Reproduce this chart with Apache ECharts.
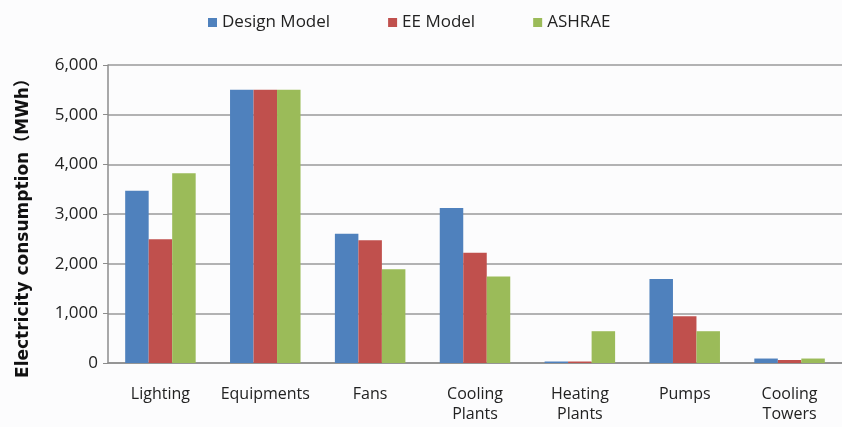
<!DOCTYPE html>
<html>
<head>
<meta charset="utf-8">
<style>
  html, body { margin: 0; padding: 0; background: #fcfcfd; }
  #myChart { width: 842px; height: 427px; }
</style>
<script src="https://cdn.jsdelivr.net/npm/echarts@6/dist/echarts.min.js"></script>
</head>
<body>
<div id="myChart"></div>
<script>
// data
var categories = ['Lighting', 'Equipments', 'Fans', 'Cooling\nPlants', 'Heating\nPlants', 'Pumps', 'Cooling\nTowers'];
var designModel = [3470, 5500, 2600, 3120, 30, 1690, 90];
var eeModel = [2490, 5500, 2470, 2220, 30, 940, 60];
var ashrae = [3820, 5500, 1890, 1740, 640, 640, 90];
var yTicks = ['0', '1,000', '2,000', '3,000', '4,000', '5,000', '6,000'];

var myChart = echarts.init(document.getElementById('myChart'));
var font = '"Open Sans", sans-serif';

var option = {
  backgroundColor: '#fcfcfd',
  animation: false,
  color: ['#4F81BD', '#C0504D', '#9BBB59'],
  legend: {
    left: 203,
    top: 9,
    itemWidth: 9,
    itemHeight: 9,
    itemGap: 58,
    icon: 'rect',
    textStyle: { fontFamily: font, fontSize: 17, color: '#222' },
    data: ['Design Model', 'EE Model', 'ASHRAE']
  },
  grid: { left: 108, top: 65, width: 742, bottom: 64 },
  xAxis: {
    type: 'category',
    data: categories,
    axisLine: { lineStyle: { color: '#8c8c8c', width: 1.5 } },
    axisTick: { show: false },
    axisLabel: { interval: 0, fontFamily: font, fontSize: 16, color: '#222', margin: 21, lineHeight: 20 }
  },
  yAxis: {
    type: 'value',
    min: 0,
    max: 6000,
    interval: 1000,
    name: 'Electricity consumption（MWh）',
    nameLocation: 'middle',
    nameGap: 76,
    nameRotate: 90,
    nameTextStyle: {
      fontFamily: '"DejaVu Sans", "Noto Sans CJK SC", sans-serif',
      fontSize: 17, fontWeight: 'bold', color: '#111', padding: [0, 20, 0, 0]
    },
    axisLine: { show: true, lineStyle: { color: '#8c8c8c', width: 1.5 } },
    axisTick: { show: true, length: 5, lineStyle: { color: '#8c8c8c' } },
    axisLabel: {
      fontFamily: font, fontSize: 17, color: '#222', margin: 10,
      formatter: function (v) { return yTicks[Math.round(v / 1000)]; }
    },
    splitLine: { lineStyle: { color: '#9a9a9a', width: 1.5 } }
  },
  series: [
    { name: 'Design Model', type: 'bar', data: designModel, barWidth: 23.5, barGap: '0%' },
    { name: 'EE Model', type: 'bar', data: eeModel, barWidth: 23.5, barGap: '0%' },
    { name: 'ASHRAE', type: 'bar', data: ashrae, barWidth: 23.5, barGap: '0%' }
  ]
};
myChart.setOption(option);
</script>
</body>
</html>
